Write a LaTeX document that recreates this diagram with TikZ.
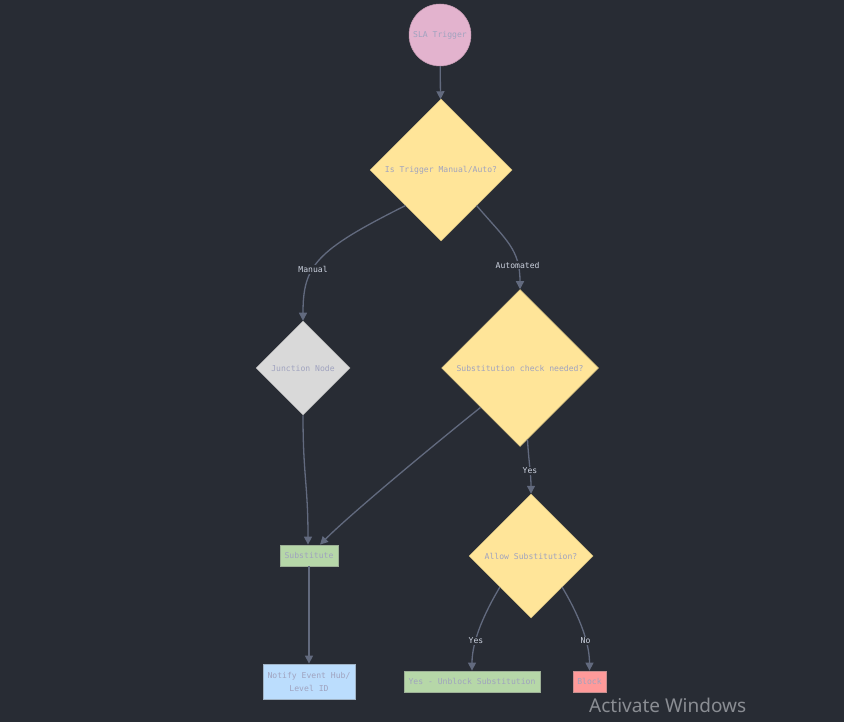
\documentclass[tikz,border=0pt]{standalone}
\usepackage{fontspec}
\setmonofont{DejaVu Sans Mono}
\newfontfamily\winfont{Noto Sans}
\usetikzlibrary{shapes.geometric,arrows.meta,calc}
\definecolor{bgc}{HTML}{282C34}
\definecolor{pinkc}{HTML}{E3B3CE}
\definecolor{yelc}{HTML}{FFE599}
\definecolor{grayc}{HTML}{D9D9D9}
\definecolor{greenc}{HTML}{B6D7A8}
\definecolor{bluec}{HTML}{BBDDFD}
\definecolor{redc}{HTML}{FF9A9A}
\definecolor{txtc}{HTML}{A0A3BF}
\definecolor{edgec}{HTML}{626A7E}
\definecolor{lblc}{HTML}{CDD3E0}
\definecolor{winc}{HTML}{8A8D93}
\tikzset{
  every node/.style={font=\ttfamily\fontsize{8.1}{13}\selectfont, text=txtc},
  dia/.style={diamond, shape aspect=1, inner sep=0pt, draw=#1!85!black, fill=#1, line width=0.5pt},
  box/.style={rectangle, inner sep=0pt, draw=#1!55!gray, fill=#1, line width=0.8pt, align=center},
  conn/.style={draw=edgec, line width=1.3pt, -{Triangle[length=8pt,width=8pt]}},
  lbl/.style={fill=bgc, text=lblc, inner sep=1pt}
}
\begin{document}
\begin{tikzpicture}[x=1pt,y=-1pt]
\fill[bgc] (0,0) rectangle (844,722);
\useasboundingbox (0,0) rectangle (844,722);
% nodes
\node[circle, fill=pinkc, draw=pinkc!85!black, line width=0.5pt, minimum size=62pt, inner sep=0pt] (sla) at (440,35) {SLA Trigger};
\node[dia=yelc, minimum width=142pt, minimum height=142pt] (d1) at (441,170) {Is Trigger Manual/Auto?};
\node[dia=grayc, minimum width=94pt, minimum height=94pt] (jn) at (303,368) {Junction Node};
\node[dia=yelc, minimum width=157pt, minimum height=157pt] (sc) at (520,368) {Substitution check needed?};
\node[dia=yelc, minimum width=124pt, minimum height=124pt] (al) at (531,556) {Allow Substitution?};
\node[box=greenc, minimum width=58pt, minimum height=21pt] (sub) at (309,555.5) {Substitute};
\node[box=bluec, minimum width=92pt, minimum height=35pt] (nt) at (309,681.5) {Notify Event Hub/\\Level ID};
\node[box=greenc, minimum width=136pt, minimum height=21pt] (ub) at (472,681.5) {Yes - Unblock Substitution};
\node[box=redc, minimum width=33pt, minimum height=21pt] (bl) at (589.5,681.5) {Block};
% connectors
\draw[conn] (sla) -- (d1);
\draw[conn] (d1.south west) .. controls +(-90,45) and +(0,-55) .. (jn.north)
  node[lbl, pos=0.6] {Manual};
\draw[conn] (d1.south east) .. controls +(30,35) and +(0,-40) .. (sc.north)
  node[lbl, pos=0.76] {Automated};
\draw[conn] (jn.south) .. controls +(0,60) and +(0,-60) .. ([xshift=-1pt]sub.north);
\draw[conn] (sc.south west) .. controls +(-50,40) and +(30,-30) .. ([xshift=11pt]sub.north);
\draw[conn] (sc.-84) .. controls +(1,20) and +(0,-20) .. (al.north)
  node[lbl, pos=0.58] {Yes};
\draw[conn] (al.south west) .. controls +(-15,25) and +(0,-30) .. (ub.north)
  node[lbl, pos=0.66] {Yes};
\draw[conn] (al.south east) .. controls +(15,25) and +(0,-30) .. (bl.north)
  node[lbl, pos=0.66] {No};
\draw[conn] (sub) -- (nt);
% overlay watermark
\node[font=\winfont\fontsize{19}{23}\selectfont, text=winc, anchor=base west, inner sep=0pt] (wm) at (589,712) {Activate Windows};
\end{tikzpicture}
\end{document}
